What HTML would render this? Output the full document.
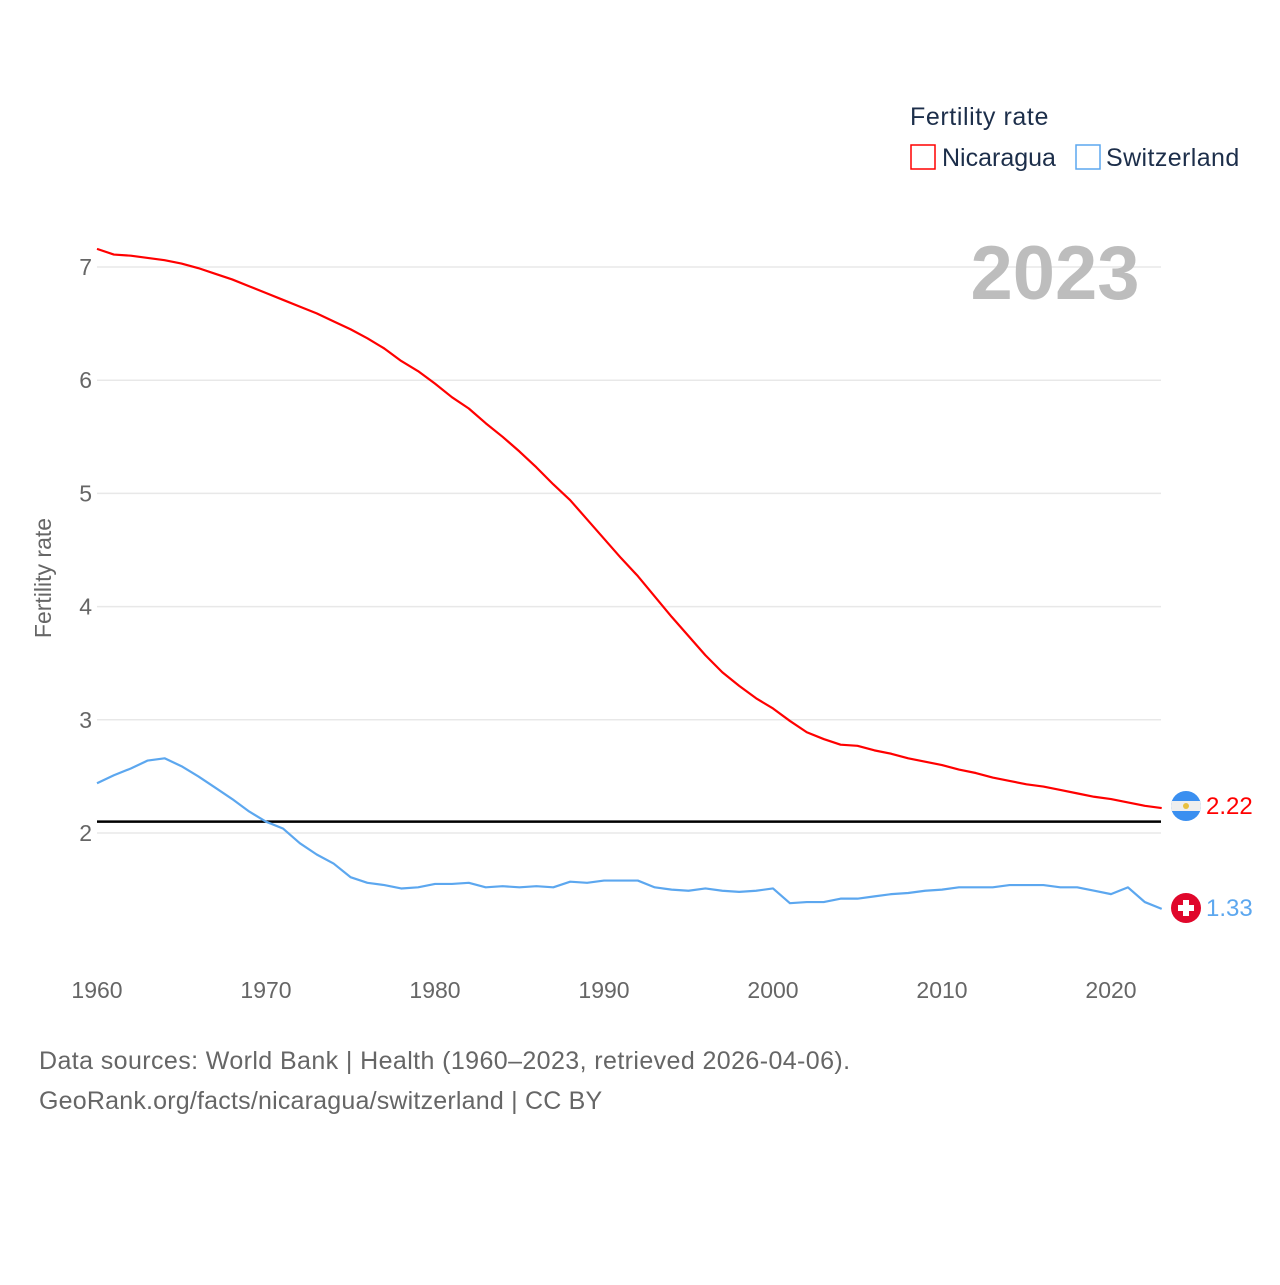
<!DOCTYPE html>
<html><head><meta charset="utf-8"><style>
body{margin:0;background:#fff;}
svg text{font-family:"Liberation Sans",sans-serif;}
</style></head><body>
<svg width="1280" height="1280" xmlns="http://www.w3.org/2000/svg">
<rect width="1280" height="1280" fill="#fff"/>
<g id="grid"></g>
<g id="axes"></g>
<text x="1055" y="299" text-anchor="middle" font-size="76" font-weight="bold" fill="#bdbdbd">2023</text>
<text x="910" y="125" font-size="25" fill="#1c2e4a" letter-spacing="0.6">Fertility rate</text>
<g><rect x="911" y="145" width="24" height="24" fill="none" stroke="#ff0000" stroke-width="1.5"/><text x="942" y="166" font-size="25" fill="#1c2e4a">Nicaragua</text></g>
<g><rect x="1076" y="145" width="24" height="24" fill="none" stroke="#5ca7ef" stroke-width="1.5"/><text x="1106" y="166" font-size="25" fill="#1c2e4a" letter-spacing="0.4">Switzerland</text></g>
<text transform="translate(51,578) rotate(-90)" text-anchor="middle" font-size="23" fill="#666">Fertility rate</text>
<g id="series"></g>
<g><clipPath id="cn"><circle cx="1186" cy="806" r="15"/></clipPath><g clip-path="url(#cn)"><rect x="1170" y="790" width="32" height="32" fill="#3a8ff0"/><rect x="1170" y="801" width="32" height="10" fill="#eee"/></g><circle cx="1186" cy="806" r="3" fill="#e8c040"/></g>
<g><circle cx="1186" cy="908" r="15" fill="#e0072b"/><rect x="1183" y="900" width="6" height="16" fill="#fff"/><rect x="1178" y="905" width="16" height="6" fill="#fff"/></g>
<text x="1206" y="814" font-size="24" fill="#ff0000">2.22</text>
<text x="1206" y="916" font-size="24" fill="#5ca7ef">1.33</text>
<text x="39" y="1069" font-size="25" fill="#666" letter-spacing="0.4">Data sources: World Bank | Health (1960–2023, retrieved 2026-04-06).</text>
<text x="39" y="1109" font-size="25" fill="#666" letter-spacing="0.2">GeoRank.org/facts/nicaragua/switzerland | CC BY</text>
</svg>
<script>
const years=[];for(let y=1960;y<=2023;y++)years.push(y);
const nicaragua=[7.16,7.11,7.10,7.08,7.06,7.03,6.99,6.94,6.89,6.83,6.77,6.71,6.65,6.59,6.52,6.45,6.37,6.28,6.17,6.08,5.97,5.85,5.75,5.62,5.50,5.37,5.23,5.08,4.94,4.77,4.60,4.43,4.27,4.09,3.91,3.74,3.57,3.42,3.30,3.19,3.10,2.99,2.89,2.83,2.78,2.77,2.73,2.70,2.66,2.63,2.60,2.56,2.53,2.49,2.46,2.43,2.41,2.38,2.35,2.32,2.30,2.27,2.24,2.22];
const switzerland=[2.44,2.51,2.57,2.64,2.66,2.59,2.50,2.40,2.30,2.19,2.10,2.04,1.91,1.81,1.73,1.61,1.56,1.54,1.51,1.52,1.55,1.55,1.56,1.52,1.53,1.52,1.53,1.52,1.57,1.56,1.58,1.58,1.58,1.52,1.50,1.49,1.51,1.49,1.48,1.49,1.51,1.38,1.39,1.39,1.42,1.42,1.44,1.46,1.47,1.49,1.50,1.52,1.52,1.52,1.54,1.54,1.54,1.52,1.52,1.49,1.46,1.52,1.39,1.33];
const yTicks=[2,3,4,5,6,7];
const xTicks=[1960,1970,1980,1990,2000,2010,2020];
const replacementRate=[2.1];
const NS="http://www.w3.org/2000/svg";
const X=y=>97+(y-1960)*16.9;
const Y=v=>833-(v-2)*113.2;
const grid=document.getElementById('grid'),axes=document.getElementById('axes'),ser=document.getElementById('series');
function mk(t,a,p){const e=document.createElementNS(NS,t);for(const k in a)e.setAttribute(k,a[k]);p.appendChild(e);return e;}
yTicks.forEach(v=>{
 const l=mk('line',{x1:97,x2:1161,y1:Y(v),y2:Y(v),stroke:'#e8e8e8','stroke-width':1.5},grid);
 
 
 const t=mk('text',{x:92,y:Y(v)+8,'text-anchor':'end','font-size':23,fill:'#666'},axes);t.textContent=v;
 
 
});
xTicks.forEach(y=>{
 const t=mk('text',{x:X(y),y:998,'text-anchor':'middle','font-size':23,fill:'#666'},axes);t.textContent=y;
 
 
});
replacementRate.forEach(v=>{
 const l=mk('line',{x1:97,x2:1161,y1:Y(v),y2:Y(v),stroke:'#000','stroke-width':2.5},ser);
 
 
});
function line(d,c,n){
 const p=mk('polyline',{points:d.map((v,i)=>X(years[i])+','+Y(v)).join(' '),fill:'none',stroke:c,'stroke-width':2.2,'stroke-linejoin':'round'},ser);
 
 
}
line(nicaragua,'#ff0000','nicaragua-line');
line(switzerland,'#5ca7ef','switzerland-line');
</script>
</body></html>
